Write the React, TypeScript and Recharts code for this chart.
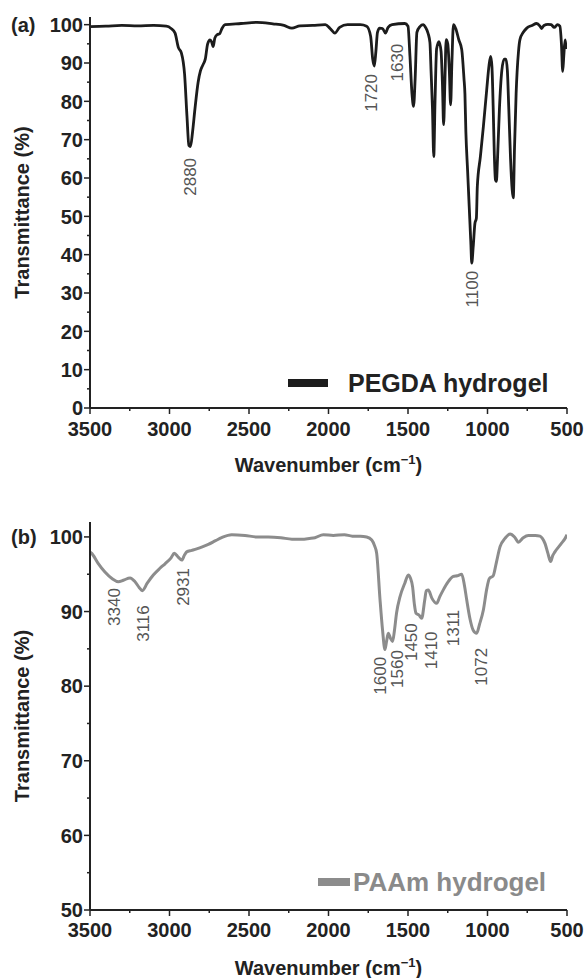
import React from 'react';
import { LineChart, Line, XAxis, YAxis, ReferenceDot, Legend } from 'recharts';

// ---------- data ----------
const pegdaSpectrum: [number, number][] = [
  [3500, 99.5], [3400, 99.6], [3300, 99.8], [3200, 99.7], [3100, 99.8], [3020, 99.6], [2990, 99.0],
  [2965, 97.8], [2944, 94.0], [2925, 92.6], [2905, 87], [2890, 76], [2878, 68.5], [2868, 68.2],
  [2855, 72], [2840, 78], [2820, 85], [2805, 88], [2790, 89.5], [2775, 91], [2760, 95], [2745, 96],
  [2735, 95.5], [2725, 94.3], [2715, 96.5], [2700, 97.4], [2685, 97.6], [2670, 99], [2650, 100],
  [2550, 100.3], [2450, 100.6], [2350, 100.2], [2280, 99.8], [2230, 99.1], [2180, 99.7], [2100, 99.8],
  [2020, 100], [1990, 99], [1960, 97.8], [1930, 99.3], [1880, 100], [1800, 100], [1760, 99.6],
  [1735, 97], [1722, 91], [1712, 89.2], [1702, 93], [1692, 98], [1678, 99.1], [1660, 99],
  [1642, 97.8], [1625, 99.3], [1600, 100], [1520, 100.3], [1500, 99.6], [1488, 92], [1475, 82],
  [1465, 78.7], [1455, 86], [1444, 98], [1425, 99.5], [1404, 100], [1390, 99.3], [1372, 97.5],
  [1362, 95.3], [1355, 88], [1346, 78], [1338, 65.6], [1330, 80], [1320, 93.7], [1305, 95.6],
  [1292, 93], [1283, 84], [1276, 73.9], [1268, 85], [1260, 96.1], [1250, 95], [1240, 88],
  [1232, 79.1], [1224, 90], [1214, 100], [1200, 99], [1180, 96], [1162, 93.5], [1148, 86],
  [1142, 82], [1136, 72], [1125, 61.8], [1115, 52.5], [1105, 43.3], [1099, 37.8], [1090, 42],
  [1079, 48.2], [1070, 49.5], [1064, 57.8], [1045, 65.5], [1026, 73.4], [1005, 83], [990, 89.5],
  [980, 91.7], [972, 89], [964, 78], [957, 66], [950, 59.5], [944, 59.1], [937, 65], [925, 78],
  [910, 88], [895, 91], [884, 91], [875, 88], [866, 78], [855, 65], [845, 57], [838, 54.8],
  [830, 68], [820, 82], [805, 93], [796, 96.1], [775, 98], [753, 99.1], [720, 99.8], [691, 100.3],
  [670, 99.6], [660, 99.0], [645, 99.8], [620, 100.1], [600, 100], [580, 99.3], [560, 100],
  [545, 99.6], [535, 95], [527, 87.8], [520, 92], [512, 96], [505, 94], [500, 94],
];

const paamSpectrum: [number, number][] = [
  [3500, 98.0], [3489, 97.8], [3450, 96.5], [3406, 95.3], [3360, 94.4], [3322, 94.0], [3290, 94.2],
  [3248, 94.5], [3217, 94.0], [3190, 93.2], [3171, 92.8], [3140, 93.8], [3102, 94.9], [3060, 95.8],
  [3028, 96.4], [2990, 97.2], [2970, 97.8], [2945, 97.3], [2923, 96.9], [2905, 97.6], [2892, 98.0],
  [2860, 98.2], [2829, 98.4], [2790, 98.7], [2756, 99.0], [2710, 99.5], [2672, 99.9], [2609, 100.3],
  [2525, 100.2], [2450, 100.0], [2379, 100.0], [2300, 99.9], [2230, 99.7], [2169, 99.7], [2120, 99.8],
  [2085, 99.9], [2033, 100.3], [1970, 100.2], [1900, 100.3], [1850, 100.1], [1800, 100.1],
  [1760, 100.0], [1728, 99.6], [1710, 98.8], [1697, 97.8], [1676, 91.6], [1660, 87.5], [1645, 84.9],
  [1635, 86.0], [1624, 87.1], [1610, 86.4], [1597, 86.0], [1585, 87.5], [1572, 89.8], [1550, 92],
  [1520, 93.8], [1498, 94.9], [1485, 94.5], [1471, 93.3], [1460, 91], [1450, 89.8], [1430, 89.5],
  [1414, 89.1], [1395, 91.5], [1385, 92.8], [1372, 92.9], [1350, 91.8], [1320, 91.1], [1300, 92],
  [1278, 92.9], [1250, 93.9], [1215, 94.7], [1190, 94.8], [1162, 95], [1145, 93.5], [1131, 91.6],
  [1110, 89], [1090, 87.5], [1068, 87.1], [1050, 88.3], [1026, 90.2], [1005, 93], [989, 94.4],
  [964, 94.8], [945, 96.5], [921, 98.7], [890, 99.8], [858, 100.4], [830, 100], [806, 99.3],
  [775, 99.9], [743, 100.2], [700, 100.2], [670, 100.1], [655, 99.8], [638, 99.1], [620, 97.8],
  [603, 96.7], [590, 97.5], [576, 98.0], [540, 99.0], [502, 100.2], [500, 100.3],
];

const xTicks = [3500, 3250, 3000, 2750, 2500, 2250, 2000, 1750, 1500, 1250, 1000, 750, 500];
const pegdaYTicks = [0, 5, 10, 15, 20, 25, 30, 35, 40, 45, 50, 55, 60, 65, 70, 75, 80, 85, 90, 95, 100];
const paamYTicks = [50, 55, 60, 65, 70, 75, 80, 85, 90, 95, 100];

const pegdaPeakText = ['2880', '1720', '1630', '1100'];
const pegdaPeakWn = [2871, 1728, 1563, 1097];
const pegdaPeakT = [60.3, 82.2, 90.1, 31.0];

const paamPeakText = ['3340', '3116', '2931', '1600', '1560', '1450', '1410', '1311', '1072'];
const paamPeakWn = [3343, 3165, 2913, 1676, 1563, 1477, 1351, 1215, 1036];
const paamPeakT = [90.6, 88.4, 93.3, 81.4, 82.3, 85.9, 84.8, 87.8, 82.6];

const pegdaData = pegdaSpectrum.map(([wn, t]) => ({ wn, t }));
const paamData = paamSpectrum.map(([wn, t]) => ({ wn, t }));

// ---------- style ----------
const FONT = '"Liberation Sans", Arial, Helvetica, sans-serif';
const AXIS = '#222';

const makeXTick = (labelDy: number) => (props: any) => {
  const { x, y, payload } = props;
  const v = payload.value;
  const major = v % 500 === 0;
  return (
    <g>
      <line x1={x} x2={x} y1={y} y2={y + (major ? 6 : 3)} stroke={AXIS} strokeWidth={1.5} />
      {major && (
        <text x={x} y={y + labelDy} textAnchor="middle" fontSize={20} fontWeight="bold" fill={AXIS} fontFamily={FONT}>
          {v}
        </text>
      )}
    </g>
  );
};

const makeYTick = (topVal: number, panel: string) => (props: any) => {
  const { x, y, payload } = props;
  const v = payload.value;
  const major = v % 10 === 0;
  return (
    <g>
      <line x1={x - (major ? 6 : 3)} x2={x} y1={y} y2={y} stroke={AXIS} strokeWidth={1.5} />
      {major && (
        <text x={x - 7} y={y} dy="0.36em" textAnchor="end" fontSize={20} fontWeight="bold" fill={AXIS} fontFamily={FONT}>
          {v}
        </text>
      )}
      {v === topVal && (
        <text x={11} y={y} dy="0.36em" textAnchor="start" fontSize={20} fontWeight="bold" fill={AXIS} fontFamily={FONT}>
          {panel}
        </text>
      )}
    </g>
  );
};

const makeXTitle = (dy: number) => (props: any) => {
  const vb = props.viewBox || {};
  const cx = (vb.x ?? 90) + (vb.width ?? 477) / 2;
  const y = (vb.y ?? 408) + dy;
  return (
    <text x={cx} y={y} textAnchor="middle" fontSize={20} fontWeight="bold" fill={AXIS} fontFamily={FONT}>
      <tspan>Wavenumber (cm</tspan>
      <tspan dy={-8} fontSize={13}>−1</tspan>
      <tspan dy={8}>)</tspan>
    </text>
  );
};

const yTitle = (props: any) => {
  const vb = props.viewBox || {};
  const cy = (vb.y ?? 17) + (vb.height ?? 391) / 2;
  const x = 22;
  return (
    <text
      x={x}
      y={cy}
      transform={`rotate(-90 ${x} ${cy})`}
      textAnchor="middle"
      dominantBaseline="central"
      fontSize={20}
      fontWeight="bold"
      fill={AXIS}
      fontFamily={FONT}
    >
      Transmittance (%)
    </text>
  );
};

const peakShape = (text: string) => (p: any) => (
  <text
    x={p.cx}
    y={p.cy}
    transform={`rotate(-90 ${p.cx} ${p.cy})`}
    textAnchor="middle"
    dominantBaseline="central"
    fontSize={17}
    fill="#555"
    fontFamily={FONT}
  >
    {text}
  </text>
);

const makeLegend = (color: string, textColor: string, barW: number, gap: number, size: number, fallback: string) => (props: any) => {
  const item = props.payload && props.payload[0];
  const name = item ? item.value : fallback;
  return (
    <div style={{ display: 'flex', alignItems: 'center', fontFamily: FONT, whiteSpace: 'nowrap' }}>
      <div style={{ width: barW, height: 8, background: color, marginRight: gap }} />
      <span style={{ fontSize: size, fontWeight: 'bold', color: textColor, lineHeight: '26px' }}>{name}</span>
    </div>
  );
};

export default function App() {
  return (
    <div style={{ position: 'absolute', left: 0, top: 0, width: 587, height: 978, background: '#fff' }}>
      <div style={{ position: 'absolute', left: 0, top: 0 }}>
        <LineChart width={587} height={490} data={pegdaData} margin={{ top: 17, right: 20, left: 0, bottom: 0 }}>
          <XAxis
            dataKey="wn"
            type="number"
            domain={[500, 3500]}
            reversed
            allowDataOverflow
            ticks={xTicks}
            interval={0}
            tickSize={0}
            tickMargin={0}
            tickLine={false}
            tick={makeXTick(28)}
            height={82}
            axisLine={{ stroke: AXIS, strokeWidth: 2 }}
            label={makeXTitle(64)}
          />
          <XAxis
            xAxisId="top"
            dataKey="wn"
            type="number"
            domain={[500, 3500]}
            reversed
            orientation="top"
            height={0}
            tick={false}
            tickLine={false}
            axisLine={{ stroke: AXIS, strokeWidth: 2 }}
          />
          <YAxis
            type="number"
            domain={[0, 102]}
            allowDataOverflow
            ticks={pegdaYTicks}
            interval={0}
            tickSize={0}
            tickMargin={0}
            tickLine={false}
            tick={makeYTick(100, '(a)')}
            width={90}
            axisLine={{ stroke: AXIS, strokeWidth: 2 }}
            label={yTitle}
          />
          <YAxis
            yAxisId="right"
            orientation="right"
            type="number"
            domain={[0, 102]}
            width={0}
            tick={false}
            tickLine={false}
            axisLine={{ stroke: AXIS, strokeWidth: 2 }}
          />
          <Line
            dataKey="t"
            name="PEGDA hydrogel"
            type="monotone"
            stroke="#1c1c1c"
            strokeWidth={2.8}
            dot={false}
            activeDot={false}
            isAnimationActive={false}
          />
          {pegdaPeakText.map((txt, i) => (
            <ReferenceDot key={txt} x={pegdaPeakWn[i]} y={pegdaPeakT[i]} r={0} ifOverflow="visible" shape={peakShape(txt)} />
          ))}
          <Legend
            layout="horizontal"
            verticalAlign="middle"
            align="center"
            wrapperStyle={{ left: 288, top: 370, width: 'auto' }}
            content={makeLegend('#1c1c1c', '#222', 40, 20, 25, 'PEGDA hydrogel')}
          />
        </LineChart>
      </div>
      <div style={{ position: 'absolute', left: 0, top: 490 }}>
        <LineChart width={587} height={488} data={paamData} margin={{ top: 32, right: 20, left: 0, bottom: 0 }}>
          <XAxis
            dataKey="wn"
            type="number"
            domain={[500, 3500]}
            reversed
            allowDataOverflow
            ticks={xTicks}
            interval={0}
            tickSize={0}
            tickMargin={0}
            tickLine={false}
            tick={makeXTick(27)}
            height={68}
            axisLine={{ stroke: AXIS, strokeWidth: 2 }}
            label={makeXTitle(65)}
          />
          <XAxis
            xAxisId="top"
            dataKey="wn"
            type="number"
            domain={[500, 3500]}
            reversed
            orientation="top"
            height={0}
            tick={false}
            tickLine={false}
            axisLine={{ stroke: AXIS, strokeWidth: 2 }}
          />
          <YAxis
            type="number"
            domain={[50, 102]}
            allowDataOverflow
            ticks={paamYTicks}
            interval={0}
            tickSize={0}
            tickMargin={0}
            tickLine={false}
            tick={makeYTick(100, '(b)')}
            width={90}
            axisLine={{ stroke: AXIS, strokeWidth: 2 }}
            label={yTitle}
          />
          <YAxis
            yAxisId="right"
            orientation="right"
            type="number"
            domain={[50, 102]}
            width={0}
            tick={false}
            tickLine={false}
            axisLine={{ stroke: AXIS, strokeWidth: 2 }}
          />
          <Line
            dataKey="t"
            name="PAAm hydrogel"
            type="monotone"
            stroke="#8c8c8c"
            strokeWidth={3}
            dot={false}
            activeDot={false}
            isAnimationActive={false}
          />
          {paamPeakText.map((txt, i) => (
            <ReferenceDot key={txt} x={paamPeakWn[i]} y={paamPeakT[i]} r={0} ifOverflow="visible" shape={peakShape(txt)} />
          ))}
          <Legend
            layout="horizontal"
            verticalAlign="middle"
            align="center"
            wrapperStyle={{ left: 318, top: 379, width: 'auto' }}
            content={makeLegend('#8c8c8c', '#8a8a8a', 32, 3, 26, 'PAAm hydrogel')}
          />
        </LineChart>
      </div>
    </div>
  );
}
